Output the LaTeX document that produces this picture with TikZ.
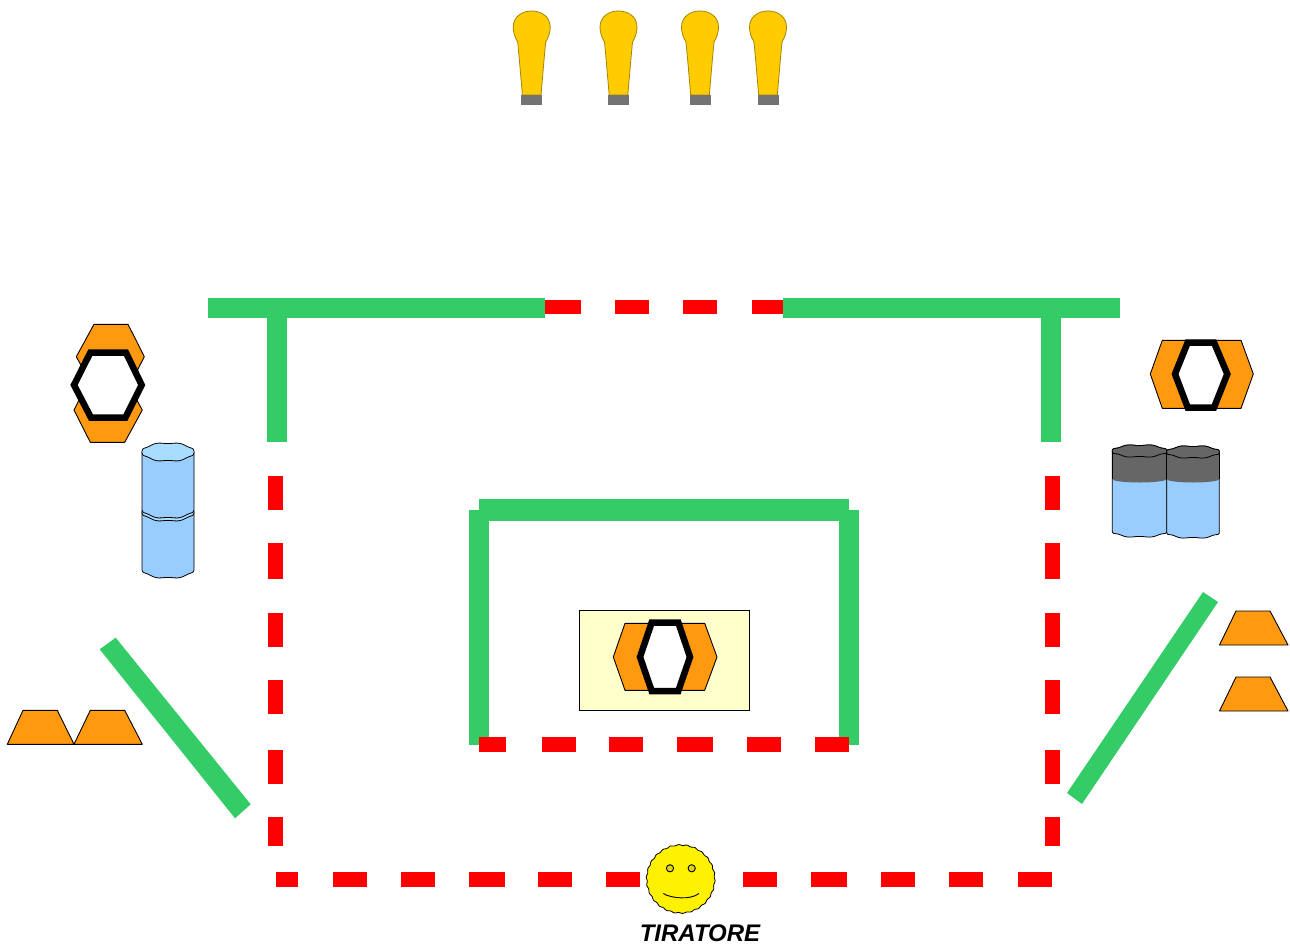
\documentclass[tikz,border=0pt]{standalone}
\usepackage{fontspec}
\setmainfont{Liberation Sans}
\definecolor{wallgreen}{HTML}{33CC66}
\definecolor{tapered}{HTML}{FF0000}
\definecolor{steel}{HTML}{FF9910}
\definecolor{drum}{HTML}{99CCFF}
\definecolor{drumtop}{HTML}{A8DDFF}
\definecolor{drumdark}{HTML}{666666}
\definecolor{pad}{HTML}{FFFFCC}
\definecolor{bulb}{HTML}{FFCC00}
\tikzset{
  wall/.style={fill=wallgreen,draw=none},
  dashbar/.style={fill=tapered,draw=none},
  prop/.style={fill=steel,draw=black,line width=.9pt,line join=round},
  ring/.style={fill=white,draw=black,line width=6.5pt,line join=miter},
  drumbody/.style={fill=drum,draw=black,line width=.8pt},
  drumcap/.style={fill=drumtop,draw=black,line width=.8pt},
  darkcap/.style={fill=drumdark,draw=black,line width=.8pt},
}
% wavy cylinder: centre x, half width, rim centre y, rim half height, bottom y (side)
\newcommand{\drumshape}[6]{%
  \path[drumbody] (#1-#2,#3) -- (#1-#2,#5)
    -- plot[domain=180:0,samples=49,smooth] ({#1+#2*cos(\x)},{#5+#4*sin(\x)+0.6*sin(7*\x)})
    -- (#1+#2,#3) -- cycle;
  \path[#6] plot[domain=0:360,samples=73,smooth] ({#1+#2*cos(\x)},{#3+#4*sin(\x)+0.6*sin(7*\x)}) -- cycle;
}
\newcommand{\darkband}[5]{%
  \path[fill=drumdark] (#1-#2,#3) -- (#1-#2,#4)
    -- plot[domain=180:0,samples=37,smooth] ({#1+#2*cos(\x)},{#4+#5*sin(\x)}) -- (#1+#2,#3) -- cycle;
  \draw[line width=.7pt,black] (#1-#2,#3) -- (#1-#2,#4) (#1+#2,#3) -- (#1+#2,#4);
  \path[darkcap] plot[domain=0:360,samples=73,smooth] ({#1+#2*cos(\x)},{#3+6*sin(\x)+0.6*sin(7*\x)}) -- cycle;
}
\newcommand{\bulbshape}[1]{%
  \begin{scope}[shift={(#1,0)}]
    \path[fill=bulb,draw=black!35!bulb,line width=.8pt]
      (-9.3,95) -- (-12.5,58) -- (-14,42)
      .. controls (-17,37) and (-18.5,32) .. (-18.5,27)
      .. controls (-18.5,17) and (-10,11) .. (0,11)
      .. controls (10,11) and (18.5,17) .. (18.5,27)
      .. controls (18.5,32) and (17,37) .. (14,42)
      -- (12.5,58) -- (9.3,95) -- cycle;
    \path[fill=black!55!white] (-10.5,95) rectangle (10.5,105);
  \end{scope}
}
\begin{document}
\begin{tikzpicture}[x=1pt,y=-1pt]
\useasboundingbox (0,0) rectangle (1290,944);
\fill[white] (0,0) rectangle (1290,944);

% bulbs
\bulbshape{531.7}
\bulbshape{618.5}
\bulbshape{700}
\bulbshape{768}

% outer walls
\path[wall] (208,298) rectangle (545,318);
\path[wall] (783,298) rectangle (1120,318);
\path[wall] (267,318) rectangle (287,442);
\path[wall] (1041,318) rectangle (1061,442);
% top dashes
\foreach \a/\b in {545/581,615/649,683/717,752/783}
  \path[dashbar] (\a,300) rectangle (\b,314);
% side dashes
\foreach \a/\b in {476/510,543/579,613/647,680/714,750/784,817/846} {
  \path[dashbar] (268,\a) rectangle (283,\b);
  \path[dashbar] (1045,\a) rectangle (1060,\b);
}
% bottom dashes
\foreach \a/\b in {276/298,333/367,401/435,469/505,538/572,606/640,743/777,811/847,881/915,949/983,1018/1052}
  \path[dashbar] (\a,872) rectangle (\b,887);

% inner box
\path[wall] (469,510) rectangle (489,745);
\path[wall] (839,510) rectangle (859,745);
\path[wall] (479,499) rectangle (849,521);
\foreach \a/\b in {479/506,542/576,609/643,677/713,747/781,815/849}
  \path[dashbar] (\a,737) rectangle (\b,752);

% diagonal walls
\path[wall] (115.7,637.7) -- (99.7,649.3) -- (235,818.3) -- (250.7,804.3) -- cycle;
\path[wall] (1203,592) -- (1218,602) -- (1082,804) -- (1067,793) -- cycle;

% left hexagons
\path[prop] (94,324.3) -- (128,324.3) -- (144.3,356.7) -- (128,389) -- (94,389) -- (76.3,356.7) -- cycle;
\path[prop] (90.3,378) -- (124.7,378) -- (142.3,410) -- (124.7,442.3) -- (90.3,442.3) -- (74,410) -- cycle;
\path[ring] (90.3,352.7) -- (126,352.7) -- (141.7,385) -- (125.3,417.7) -- (91,417.7) -- (74,385) -- cycle;

% left drums
\drumshape{168}{26}{512}{9}{569}{drumcap}
\drumshape{168}{26}{452}{9}{509}{drumcap}

% left trapezoids
\path[prop] (7.3,744.3) -- (23,710.3) -- (57.3,710.3) -- (74,744.3) -- cycle;
\path[prop] (74,744.3) -- (90.3,710.3) -- (124.7,710.3) -- (142.3,744.3) -- cycle;

% right hexagon
\path[prop] (1162.3,340.3) -- (1241,340.3) -- (1253.3,374) -- (1241,408.3) -- (1162.3,408.3) -- (1150.3,374) -- cycle;
\path[ring] (1187.7,342.5) -- (1214,342.5) -- (1227.3,374) -- (1214,407.5) -- (1187.7,407.5) -- (1175,374) -- cycle;

% right drums
\drumshape{1139.5}{27.2}{451}{6}{531}{darkcap}
\darkband{1139.5}{27.2}{451}{479}{3.5}
\drumshape{1193}{26.3}{452}{6}{532}{darkcap}
\darkband{1193}{26.3}{452}{479}{3.5}

% right trapezoids
\path[prop] (1219.5,645) -- (1236,611) -- (1270,611) -- (1288,645) -- cycle;
\path[prop] (1219.5,711) -- (1236,677) -- (1270,677) -- (1288,711) -- cycle;

% central pad
\path[fill=pad,draw=black,line width=.8pt] (579.3,610.3) rectangle (749,710.7);
\path[prop] (625,623.3) -- (704.7,623.3) -- (717,657) -- (704.7,690.3) -- (625,690.3) -- (613.3,657) -- cycle;
\path[ring] (651.7,622.5) -- (678.3,622.5) -- (690,657) -- (678.3,691) -- (651.7,691) -- (640,657) -- cycle;

% shooter
\path[fill=yellow,draw=black,line width=.8pt] plot[domain=0:360,samples=145,smooth] ({680.7+(34+0.5*sin(26*\x))*cos(\x)},{879+(34+0.5*sin(26*\x))*sin(\x)}) -- cycle;
\path[fill=yellow!85!black,draw=black,line width=.9pt] (670,868.3) circle (3.6);
\path[fill=yellow!85!black,draw=black,line width=.9pt] (691.7,868.3) circle (3.6);
\draw[black,line width=.9pt] (663.3,893.5) .. controls (670,898) and (690,900.5) .. (699,893.5);
\node[anchor=base,inner sep=0pt,font=\fontsize{24pt}{26pt}\selectfont\bfseries\itshape] (shooter) at (700,941) {TIRATORE};
\end{tikzpicture}
\end{document}
